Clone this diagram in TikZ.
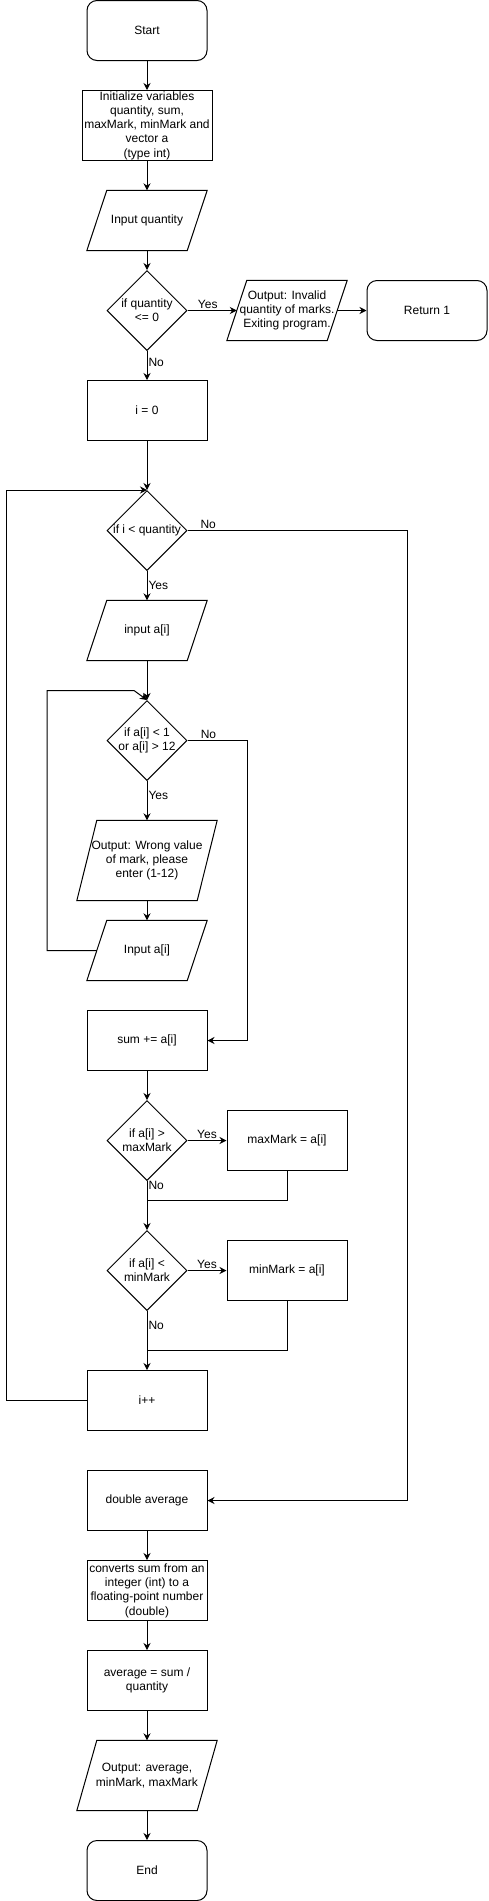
\documentclass[tikz,border=0pt]{standalone}
\usepackage{fontspec}
\setmainfont{Liberation Sans}
\usetikzlibrary{shapes.geometric,arrows.meta}

% parallelogram drawn round a node: name, slant
\newcommand{\ioshape}[2]{\draw[line width=1pt] ([xshift=#2]#1.north west) -- (#1.north east) -- ([xshift=-#2]#1.south east) -- (#1.south west) -- cycle;}

\tikzset{
  base/.style={draw, line width=1pt, font=\fontsize{12}{14.3}\selectfont, align=center, inner sep=0pt},
  term/.style={base, rectangle, rounded corners=10pt, minimum width=120pt, minimum height=60pt},
  proc/.style={base, rectangle, minimum width=120pt, minimum height=60pt},
  io/.style={font=\fontsize{12}{14.3}\selectfont, align=center, inner sep=0pt, minimum width=120pt, minimum height=60pt},
  decision/.style={base, diamond, minimum width=80pt, minimum height=80pt},
  dtext/.style={font=\fontsize{12}{14.3}\selectfont, align=center, inner sep=0pt},
  lbl/.style={font=\fontsize{12}{14}\selectfont, inner sep=1pt},
  flowarrow/.style={line width=1pt, -{Stealth[length=7pt,width=7pt]}},
  flowline/.style={line width=1pt}
}

\begin{document}
\begin{tikzpicture}[x=1pt,y=-1pt]
		\useasboundingbox (0,-0.5) rectangle (488,1900.5);

		% Setup and input
		\node[term] (start) at (147,30) {Start};
		\node[proc, minimum width=130pt, minimum height=70pt] (init) at (147,125) {Initialize variables\\quantity, sum,\\maxMark, minMark and\\vector a\\(type int)};
		\node[io] (inq) at (147,220) {Input quantity};
		\ioshape{inq}{20pt}
		\node[decision, label={[dtext]center:{if quantity\\<= 0}}] (qchk) at (147,310) {};
		\node[io] (outinv) at (287,310) {Output: Invalid\\quantity of marks.\\Exiting program.};
		\ioshape{outinv}{20pt}
		\node[term] (ret) at (427,310) {Return 1};
		\node[proc] (initi) at (147,410) {i = 0};

		% Reading loop
		\node[decision, label={[dtext]center:{if i < quantity}}] (loopchk) at (147,530) {};
		\node[io] (ina) at (147,630) {input a[i]};
		\ioshape{ina}{20pt}
		\node[decision, label={[dtext]center:{if a[i] < 1\\or a[i] > 12}}] (chkmark) at (147,740) {};
		\node[io, minimum width=140pt, minimum height=80pt] (outwrong) at (147,860) {Output: Wrong value\\of mark, please\\enter (1-12)};
		\ioshape{outwrong}{20pt}
		\node[io] (ina2) at (147,950) {Input a[i]};
		\ioshape{ina2}{20pt}
		\coordinate (innertop) at (47,690);
		\coordinate (innerturn) at (134,690);
		\node[proc] (sumb) at (147,1040) {sum += a[i]};
		\node[decision, label={[dtext]center:{if a[i] >\\maxMark}}] (decmax) at (147,1140) {};
		\node[proc] (maxbox) at (287,1140) {maxMark = a[i]};
		\coordinate (joinmax) at (147,1200);
		\node[decision, label={[dtext]center:{if a[i] <\\minMark}}] (decmin) at (147,1270) {};
		\node[proc] (minbox) at (287,1270) {minMark = a[i]};
		\coordinate (joinmin) at (147,1350);
		\node[proc] (incr) at (147,1400) {i++};

		% Result
		\node[proc] (dblavg) at (147,1500) {double average};
		\node[proc] (conv) at (147,1590) {converts sum from an\\integer (int) to a\\floating-point number\\(double)};
		\node[proc] (avg) at (147,1680) {average = sum /\\quantity};
		\node[io, minimum width=140pt, minimum height=70pt] (outfin) at (147,1775) {Output: average,\\minMark, maxMark};
		\ioshape{outfin}{20pt}
		\node[term] (endn) at (147,1870) {End};

		% Connectors
		\draw[flowarrow] (start) -- (init);
		\draw[flowarrow] (init) -- (inq);
		\draw[flowarrow] (inq) -- (qchk);
		\draw[flowarrow] (qchk) -- node[lbl, above, pos=0.41] {Yes} ([xshift=10pt]outinv.west);
		\draw[flowarrow] ([xshift=-10pt]outinv.east) -- (ret);
		\draw[flowarrow] (qchk) -- node[lbl, right, pos=0.4] {No} (initi);
		\draw[flowarrow] (initi) -- (loopchk);
		\draw[flowarrow] (loopchk) -- node[lbl, right, pos=0.48] {Yes} (ina);
		\draw[flowarrow] (loopchk.east) -- node[lbl, above, pos=0.094] {No} ++(220,0) |- (dblavg.east);
		\draw[flowarrow] (ina) -- (chkmark);
		\draw[flowarrow] (chkmark) -- node[lbl, right, pos=0.36] {Yes} (outwrong);
		\draw[flowarrow] (chkmark.east) -- node[lbl, above, pos=0.35] {No} ++(60,0) |- (sumb.east);
		\draw[flowarrow] (outwrong) -- (ina2);
		\draw[flowarrow] ([xshift=10pt]ina2.west) -| (innertop) -- (innerturn) -- (chkmark.north);
		\draw[flowarrow] (sumb) -- (decmax);
		\draw[flowarrow] (decmax) -- node[lbl, above] {Yes} (maxbox);
		\draw[flowarrow] (decmax) -- node[lbl, right, pos=0.1] {No} (decmin);
		\draw[flowline] (maxbox.south) |- (joinmax);
		\draw[flowarrow] (decmin) -- node[lbl, above] {Yes} (minbox);
		\draw[flowarrow] (decmin) -- node[lbl, right, pos=0.24] {No} (incr);
		\draw[flowline] (minbox.south) |- (joinmin);
		\draw[flowarrow] (incr.west) -- ++(-80,0) |- (loopchk.north);
		\draw[flowarrow] (dblavg) -- (conv);
		\draw[flowarrow] (conv) -- (avg);
		\draw[flowarrow] (avg) -- (outfin);
		\draw[flowarrow] (outfin) -- (endn);
	\end{tikzpicture}
\end{document}
